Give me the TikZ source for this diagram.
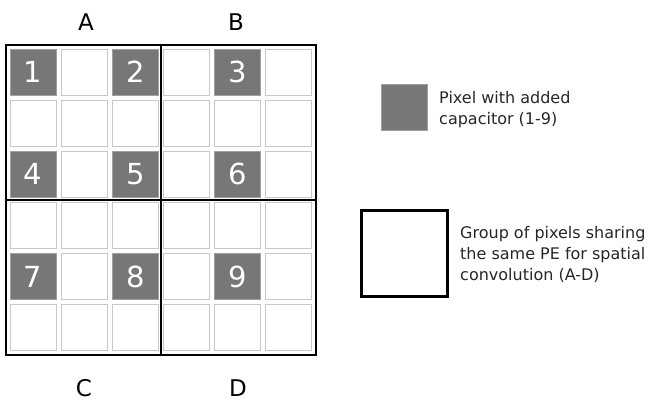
\documentclass[tikz,border=0pt]{standalone}
\usepackage{fontspec}
\setmainfont{DejaVu Sans}
\definecolor{cellgrey}{HTML}{777777}
\definecolor{cellline}{HTML}{C8C8C8}
\begin{document}
\begin{tikzpicture}[x=1pt,y=-1pt,
  pixel/.style={draw=cellline,line width=1.4pt,fill=white,minimum width=46pt,minimum height=46pt,inner sep=0pt,anchor=north west},
  cappix/.style={pixel,fill=cellgrey,draw=cellgrey!70!white,text=white,font=\fontsize{29}{29}\selectfont},
  group/.style={draw=black,line width=2.6pt},
  grouplbl/.style={font=\fontsize{23}{23}\selectfont},
  legtext/.style={font=\fontsize{16}{20}\selectfont,anchor=base west,inner sep=0pt,text=black!85}]
\useasboundingbox (0,0) rectangle (651,408);
% pixels
\foreach \r in {0,...,5}{
  \foreach \c in {0,...,5}{
    \node[pixel] (p\r\c) at ({9.5+51.1*\c},{48.5+51.1*\r}) {};
  }
}
\foreach \r/\c/\n in {0/0/1,0/2/2,0/4/3,2/0/4,2/2/5,2/4/6,4/0/7,4/2/8,4/4/9}{
  \node[cappix] (q\n) at ({9.5+51.1*\c},{48.5+51.1*\r}) {\n};
}
% groups
\draw[group] (6,45) rectangle (316,355);
\draw[group] (161,45) -- (161,355);
\draw[group] (6,200) -- (316,200);
% group labels
\node[grouplbl] (la) at (86,22) {A};
\node[grouplbl] (lb) at (236,22) {B};
\node[grouplbl] (lc) at (84,388) {C};
\node[grouplbl] (ld) at (238,388) {D};
% legend
\node[pixel,fill=cellgrey,draw=cellgrey!70!white] (legpix) at (381,84) {};
\node[legtext] (legpixt1) at (439,103) {Pixel with added};
\node[legtext] (legpixt2) at (439,124) {capacitor (1-9)};
\node[draw=black,line width=3pt,minimum width=86pt,minimum height=86pt,inner sep=0pt,anchor=north west] (leggrp) at (359.5,208.5) {};
\node[legtext] (leggrpt1) at (460,238) {Group of pixels sharing};
\node[legtext] (leggrpt2) at (460,259) {the same PE for spatial};
\node[legtext] (leggrpt3) at (460,280) {convolution (A-D)};
\end{tikzpicture}
\end{document}
